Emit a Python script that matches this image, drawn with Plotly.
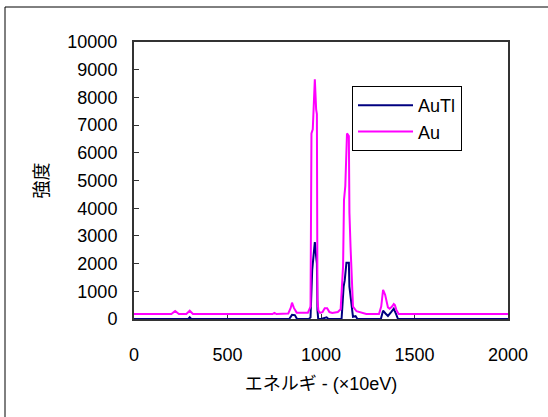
import plotly.graph_objects as go

# --- data ---
au_x = [0, 200, 220, 240, 280, 298, 315, 740, 751, 762, 825, 838, 845, 855, 870,
        930, 944, 949, 956, 967, 974, 978, 981, 986, 995, 1008, 1020, 1033, 1045, 1060,
        1090, 1105, 1118, 1123, 1130, 1139, 1149, 1152, 1158, 1162, 1171, 1190, 1242,
        1310, 1322, 1332, 1343, 1358, 1367, 1380, 1389, 1395, 1403, 1415, 2010]
au_y = [180, 180, 290, 180, 180, 300, 180, 180, 220, 180, 200, 400, 590, 400, 230,
        230, 450, 6700, 6850, 8650, 7570, 7400, 690, 300, 220, 250, 390, 390, 250, 220,
        250, 350, 1900, 4300, 4800, 6700, 6600, 3840, 2600, 1670, 450, 280, 180,
        180, 450, 1050, 870, 420, 370, 450, 540, 500, 330, 180, 180]

autl_x = [0, 290, 298, 306, 830, 845, 860, 872, 935, 944, 953, 967, 974, 978, 981, 985,
          1000, 1030, 1040, 1110, 1121, 1127, 1136, 1149, 1152, 1162, 1171, 1185, 1195,
          1320, 1332, 1345, 1358, 1375, 1389, 1400, 1412, 2010]
autl_y = [0, 0, 60, 0, 0, 150, 140, 0, 0, 60, 1775, 2780, 2260, 2000, 330, 0,
          0, 60, 0, 0, 1170, 1400, 2030, 2030, 1170, 580, 80, 100, 0,
          0, 300, 200, 110, 250, 370, 200, 0, 0]

x_ticks = [0, 500, 1000, 1500, 2000]
y_ticks = [0, 1000, 2000, 3000, 4000, 5000, 6000, 7000, 8000, 9000, 10000]

FONT = "Liberation Sans, Arial, Noto Sans CJK JP, sans-serif"

fig = go.Figure()
fig.add_trace(go.Scatter(x=autl_x, y=autl_y, mode="lines", name="AuTl",
                         line=dict(color="#000080", width=2)))
fig.add_trace(go.Scatter(x=au_x, y=au_y, mode="lines", name="Au",
                         line=dict(color="#FF00FF", width=2)))

L, R, T, B = 134, 508, 42, 319
W, H = 548, 417
pw, ph = R - L, B - T

def px2paper_x(px):
    return (px - L) / pw

def px2paper_y(py):
    return (B - py) / ph

fig.update_layout(
    width=W, height=H,
    margin=dict(l=L, r=W - R, t=T, b=H - B, autoexpand=False),
    paper_bgcolor="white", plot_bgcolor="white",
    font=dict(family=FONT, size=18, color="black"),
    showlegend=True,
    legend=dict(x=px2paper_x(352), y=px2paper_y(86), xanchor="left", yanchor="top",
                bgcolor="white", bordercolor="black", borderwidth=1,
                font=dict(size=18, family=FONT), itemwidth=55,
                tracegroupgap=0),
    xaxis=dict(range=[0, 2000], tickvals=x_ticks, ticktext=[str(v) for v in x_ticks],
               ticks="inside", ticklen=5, automargin=False, ticklabelstandoff=18,
               tickcolor="#333", showline=True, linecolor="#333", linewidth=2,
               mirror=True, showgrid=False, zeroline=False, layer="below traces",
               title=dict(text="エネルギ - (×10eV)", font=dict(size=18, family="Liberation Sans, Noto Sans CJK JP"), standoff=14),
               tickfont=dict(size=18)),
    yaxis=dict(range=[0, 10000], tickvals=y_ticks, ticktext=[str(v) for v in y_ticks],
               ticks="inside", ticklen=5, automargin=False, ticklabelstandoff=11,
               tickcolor="#333", showline=True, linecolor="#333", linewidth=2,
               mirror=True, showgrid=False, zeroline=False, layer="below traces",
               title=dict(text="強度", font=dict(size=18, family="Noto Sans CJK JP"), standoff=14),
               tickfont=dict(size=18)),
    shapes=[dict(type="rect", xref="paper", yref="paper",
                 x0=px2paper_x(5), x1=px2paper_x(W + 5),
                 y0=px2paper_y(H + 5), y1=px2paper_y(7),
                 line=dict(color="black", width=1), fillcolor="rgba(0,0,0,0)",
                 layer="below")],
)

fig.write_html("out.html", config={"displayModeBar": False},
               post_script="document.body.style.margin='0';")
